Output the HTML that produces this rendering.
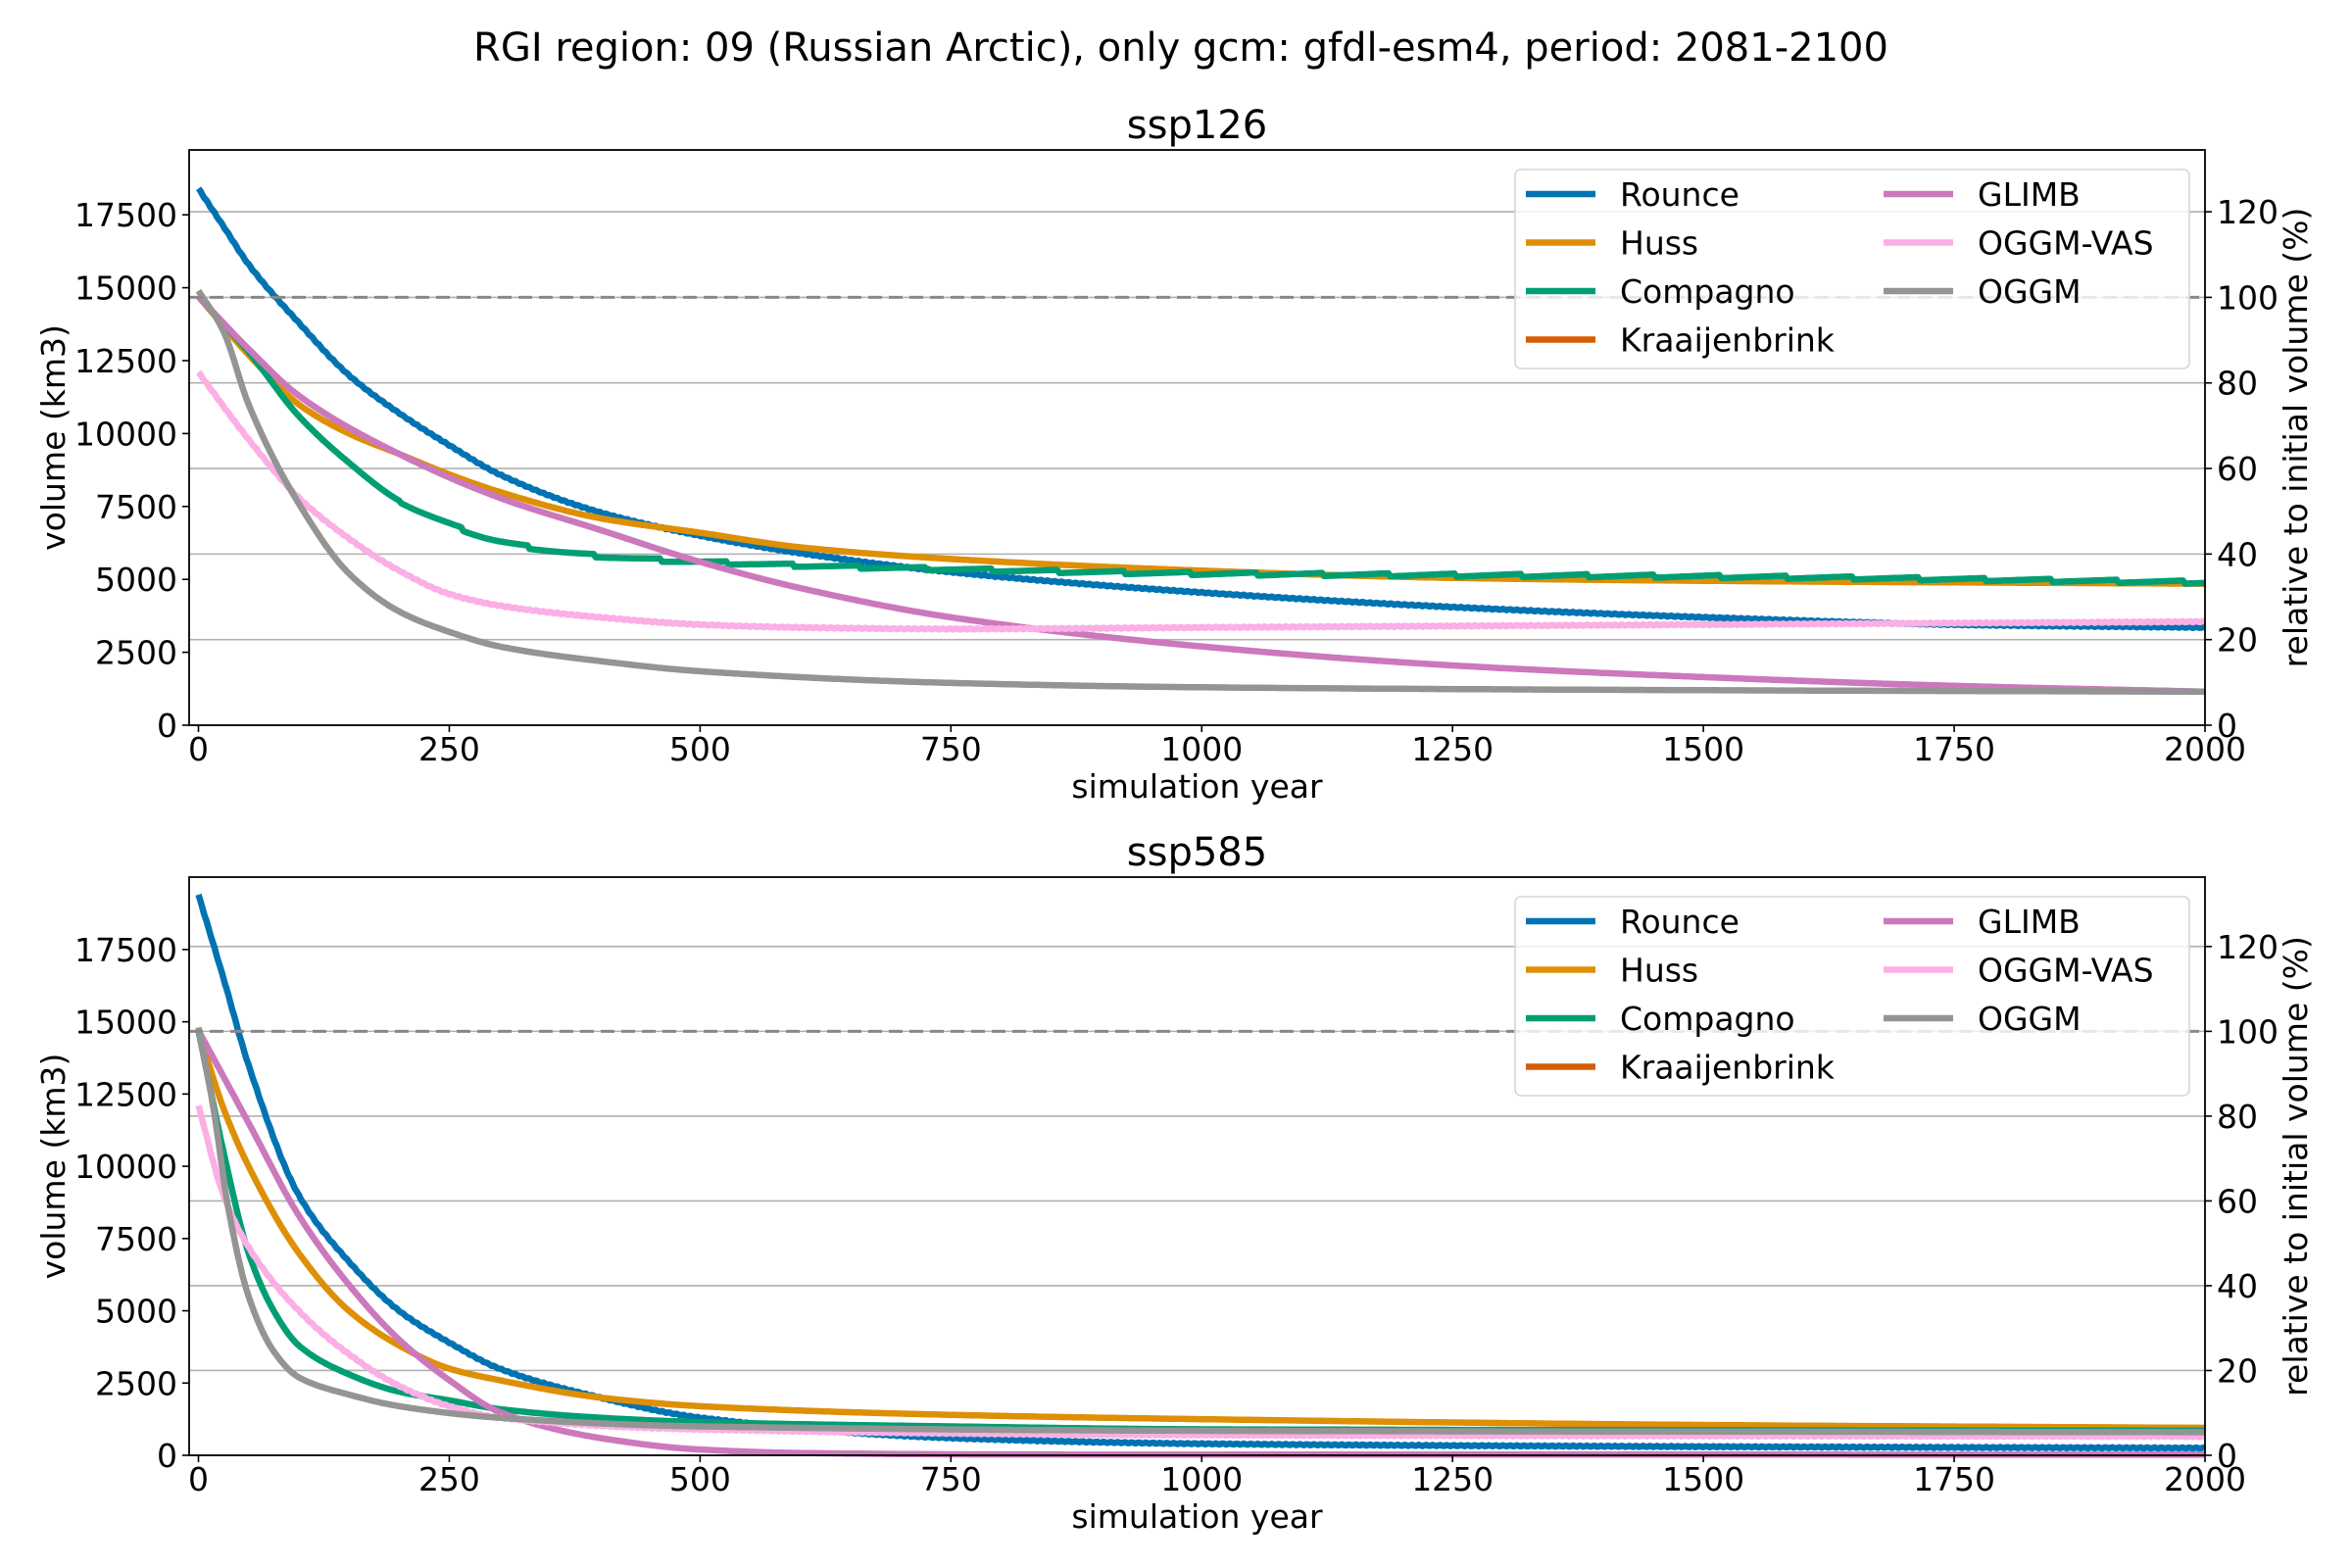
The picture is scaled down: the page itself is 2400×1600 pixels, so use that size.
<!DOCTYPE html>
<html><head><meta charset="utf-8"><style>
html,body{margin:0;padding:0;background:#fff}
svg{display:block}
text{font-family:"DejaVu Sans","Liberation Sans",sans-serif;fill:#000}
</style></head><body>
<svg id="s" width="2400" height="1600" viewBox="0 0 2400 1600" xmlns="http://www.w3.org/2000/svg">
<rect width="2400" height="1600" fill="#fff"/>
<text x="1205" y="62" font-size="40" text-anchor="middle">RGI region: 09 (Russian Arctic), only gcm: gfdl-esm4, period: 2081-2100</text>
<g id="g"></g>
</svg>
<script>
var NS="http://www.w3.org/2000/svg",G=document.getElementById('g');
function el(t,a,txt){var e=document.createElementNS(NS,t);for(var k in a)e.setAttribute(k,a[k]);if(txt!==undefined)e.textContent=txt;G.appendChild(e);return e;}
var L=193,R=2250;
function X(y){return 202.5+y*(R-202.5)/2000;}
var C={Rounce:"#0173b2",Huss:"#de8f05",Compagno:"#029e73",Kraaijenbrink:"#d55e00",GLIMB:"#cc78bc","OGGM-VAS":"#fbafe4",OGGM:"#949494"};
function pchip(k){var n=k.length,h=[],d=[],m=[];
  for(var i=0;i<n-1;i++){h[i]=k[i+1][0]-k[i][0];d[i]=(k[i+1][1]-k[i][1])/h[i];}
  m[0]=d[0];m[n-1]=d[n-2];
  for(var i=1;i<n-1;i++){if(d[i-1]*d[i]<=0)m[i]=0;else{var w1=2*h[i]+h[i-1],w2=h[i]+2*h[i-1];m[i]=(w1+w2)/(w1/d[i-1]+w2/d[i]);}}
  return function(t){var i=0;while(i<n-2&&t>k[i+1][0])i++;var hh=h[i],s=(t-k[i][0])/hh;
    var h00=2*s*s*s-3*s*s+1,h10=s*s*s-2*s*s+s,h01=-2*s*s*s+3*s*s,h11=s*s*s-s*s;
    return h00*k[i][1]+h10*hh*m[i]+h01*k[i+1][1]+h11*hh*m[i+1];};}
function panel(top,bot,title,data,saw,per){
  var zero=bot;
  function Y(v){return zero-v*per;}
  var p100=14670*per;
  for(var k=1;k<=6;k++){var yy=zero-p100*k/5;el('line',{x1:L,x2:R,y1:yy,y2:yy,stroke:'#b0b0b0','stroke-width':1.6});}
  el('text',{x:(L+R)/2,y:top-12,'font-size':40,'text-anchor':'middle'},title);
  var order=["Rounce","Huss","Compagno","GLIMB","OGGM-VAS","OGGM"];
  order.forEach(function(n){
    var f=pchip(data[n]),d="";
    for(var t=0;t<=2000;t+=2){var v=f(t);
      if(n=="Compagno"&&saw&&t>200){v+=110*((t%66)/66-0.5);}
      if(n=="OGGM-VAS"||n=="Rounce"){v+=20*Math.sin(t*0.9);}
      d+=(t?"L":"M")+X(t).toFixed(1)+","+Y(v).toFixed(1);}
    el('path',{d:d,fill:'none',stroke:C[n],'stroke-width':6.5,'stroke-linejoin':'round'});
  });
  el('line',{x1:L,x2:R,y1:zero-p100,y2:zero-p100,stroke:'#888','stroke-width':3,'stroke-dasharray':'14,7'});
  el('rect',{x:L,y:top,width:R-L,height:bot-top,fill:'none',stroke:'#000','stroke-width':1.8});
  for(var v=0;v<=17500;v+=2500){var yy=Y(v);el('line',{x1:L-7,x2:L,y1:yy,y2:yy,stroke:'#000','stroke-width':1.6});
    el('text',{x:L-12,y:yy+12,'font-size':33,'text-anchor':'end'},String(v));}
  for(var k=0;k<=6;k++){var yy=zero-p100*k/5;el('line',{x1:R,x2:R+7,y1:yy,y2:yy,stroke:'#000','stroke-width':1.6});
    el('text',{x:R+12,y:yy+12,'font-size':33},String(k*20));}
  for(var t=0;t<=2000;t+=250){var xx=X(t);el('line',{x1:xx,x2:xx,y1:bot,y2:bot+7,stroke:'#000','stroke-width':1.6});
    el('text',{x:xx,y:bot+36,'font-size':33,'text-anchor':'middle'},String(t));}
  el('text',{x:(L+R)/2,y:bot+74,'font-size':33,'text-anchor':'middle'},'simulation year');
  var cy=(top+bot)/2;
  el('text',{x:0,y:0,'font-size':33,'text-anchor':'middle',transform:'translate(66,'+cy+') rotate(-90)'},'volume (km3)');
  el('text',{x:0,y:0,'font-size':33,'text-anchor':'middle',transform:'translate(2354,'+cy+') rotate(-90)'},'relative to initial volume (%)');
  var lt=top+20,LX=1546;
  el('rect',{x:LX,y:lt,width:688,height:203,rx:6,fill:'#fff','fill-opacity':0.8,stroke:'#d6d6d6','stroke-width':1.6});
  var c1=["Rounce","Huss","Compagno","Kraaijenbrink"],c2=["GLIMB","OGGM-VAS","OGGM"];
  c1.forEach(function(n,i){var yy=lt+25+i*49.5;el('line',{x1:LX+11,x2:LX+82,y1:yy,y2:yy,stroke:C[n],'stroke-width':6.5});el('text',{x:LX+107,y:yy+12,'font-size':33},n);});
  c2.forEach(function(n,i){var yy=lt+25+i*49.5;el('line',{x1:LX+376,x2:LX+447,y1:yy,y2:yy,stroke:C[n],'stroke-width':6.5});el('text',{x:LX+472,y:yy+12,'font-size':33},n);});
}
var top1={
Rounce:[[0,18400],[25,17100],[50,15800],[100,13800],[150,12000],[200,10700],[250,9600],[300,8600],[400,7300],[500,6500],[600,5900],[750,5250],[1000,4550],[1250,4050],[1500,3700],[1750,3450],[2000,3350]],
Huss:[[0,14700],[50,12700],[100,11000],[150,10000],[200,9300],[250,8600],[300,8000],[400,7100],[500,6600],[600,6100],[750,5700],[1000,5300],[1250,5050],[1500,4950],[2000,4850]],
Compagno:[[0,14700],[50,12800],[100,10600],[150,9000],[200,7700],[250,6900],[300,6300],[400,5800],[500,5600],[750,5350],[1000,5200],[1500,5100],[2000,4900]],
GLIMB:[[0,14700],[50,12900],[100,11300],[200,9300],[300,7800],[400,6700],[500,5600],[600,4700],[750,3700],[1000,2700],[1250,2050],[1500,1650],[1750,1350],[2000,1150]],
"OGGM-VAS":[[0,12100],[50,9800],[100,7800],[150,6400],[200,5300],[250,4500],[300,4100],[400,3700],[500,3450],[600,3350],[750,3300],[1000,3350],[1500,3450],[2000,3550]],
OGGM:[[0,14900],[25,13500],[50,11000],[100,7600],[150,5200],[200,3900],[250,3200],[300,2700],[400,2200],[500,1850],[750,1450],[1000,1300],[1500,1200],[2000,1150]]};
var bot1={
Rounce:[[0,19400],[25,16500],[50,13500],[100,9000],[150,6700],[200,5000],[250,3900],[300,3000],[400,2000],[500,1300],[750,600],[1000,400],[1500,300],[2000,250]],
Huss:[[0,14700],[25,12000],[50,10000],[100,7000],[150,5000],[200,3800],[250,3000],[300,2600],[400,2000],[500,1700],[750,1400],[1000,1250],[1500,1050],[2000,950]],
Compagno:[[0,14700],[25,10500],[50,7000],[75,5000],[100,3800],[150,2800],[200,2200],[250,1900],[300,1600],[400,1300],[500,1150],[750,1000],[1000,900],[2000,850]],
GLIMB:[[0,14700],[50,11500],[100,8300],[150,5900],[200,4000],[250,2600],[300,1500],[400,600],[500,200],[600,80],[800,30],[2000,20]],
"OGGM-VAS":[[0,12100],[25,9000],[50,7200],[100,5000],[150,3500],[200,2400],[250,1700],[300,1300],[500,900],[1000,700],[2000,650]],
OGGM:[[0,14800],[15,12000],[30,8500],[50,5500],[75,3600],[100,2700],[150,2100],[200,1700],[300,1300],[500,1000],[1000,850],[2000,800]]};
panel(153,740,"ssp126",top1,true,0.02976);
panel(895,1485,"ssp585",bot1,false,0.02949);
</script>
</body></html>
